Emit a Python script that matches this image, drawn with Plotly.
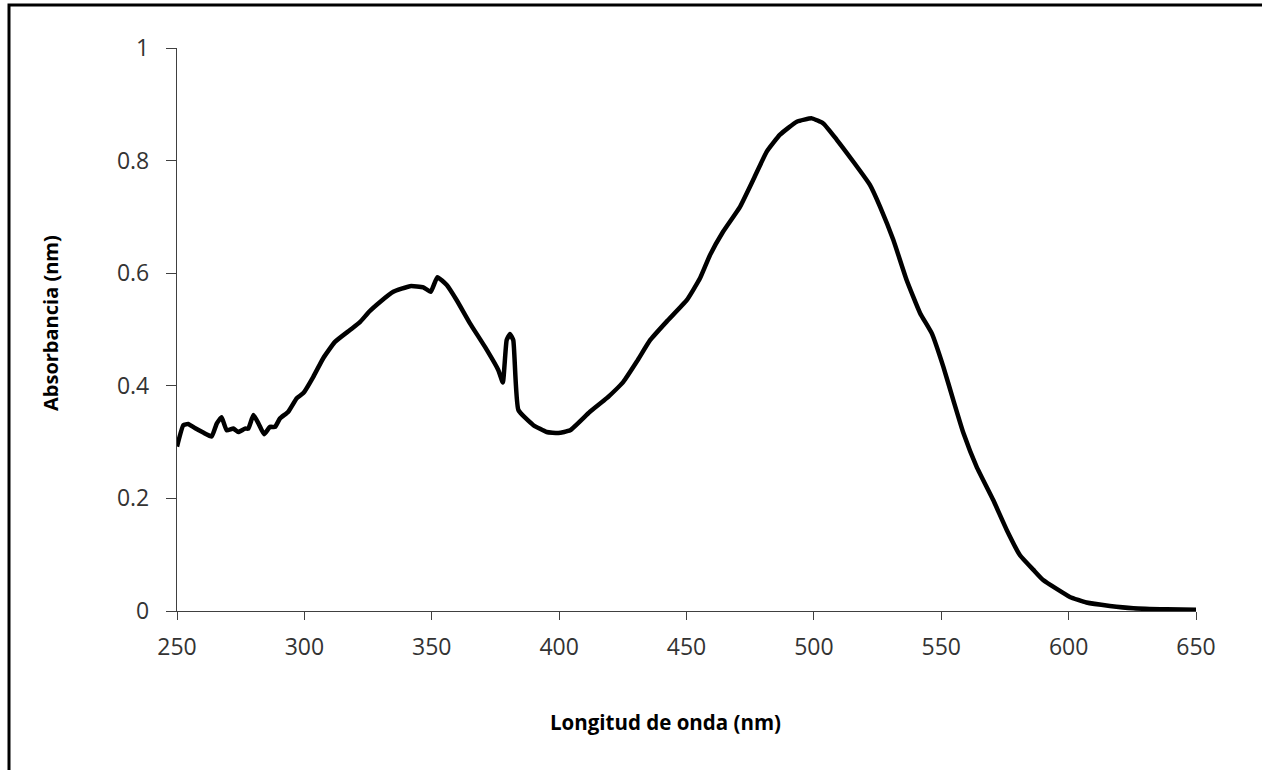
import plotly.graph_objects as go

wavelength = [250, 252.5, 254.4, 257, 260.3, 263.6, 265.6, 267.5, 269.5, 272.1, 274.1, 276.7, 278,
              280, 282, 284.2, 286.5, 288.5, 290.4, 293.7, 297, 299.6, 303.5, 307.4, 312, 317.9,
              321.8, 325.5, 329.7, 334.9, 341.5, 346.7, 349.6, 352.2, 355.9, 359.8, 365, 370.9,
              376.1, 377.9, 379.4, 380.7, 382, 384, 389.9, 395.1, 399.7, 404.3, 412.1, 418.7,
              425.2, 430.5, 435.7, 442.2, 450.1, 455.3, 459.2, 464.4, 471, 476.2, 481.5, 486.7,
              493.3, 499.2, 503.7, 509, 515.5, 522, 526, 531.2, 536.4, 541.7, 546.3, 550.8,
              554.7, 558.7, 563.9, 570.4, 575.7, 580.9, 586.2, 590, 600.5, 607, 616.2, 625.4,
              638.5, 650]
absorbance = [0.292, 0.330, 0.332, 0.325, 0.317, 0.310, 0.333, 0.344, 0.321, 0.324, 0.318, 0.324, 0.324,
              0.348, 0.333, 0.314, 0.327, 0.327, 0.342, 0.354, 0.378, 0.387, 0.416, 0.449, 0.478, 0.499,
              0.513, 0.532, 0.549, 0.567, 0.577, 0.575, 0.567, 0.593, 0.579, 0.552, 0.511, 0.469,
              0.428, 0.406, 0.481, 0.492, 0.481, 0.357, 0.330, 0.318, 0.316, 0.321, 0.354, 0.378,
              0.407, 0.443, 0.481, 0.514, 0.552, 0.591, 0.632, 0.674, 0.718, 0.766, 0.816, 0.846,
              0.869, 0.875, 0.866, 0.837, 0.798, 0.757, 0.718, 0.659, 0.588, 0.529, 0.493, 0.434,
              0.375, 0.316, 0.256, 0.197, 0.144, 0.099, 0.073, 0.055, 0.025, 0.015, 0.009, 0.005,
              0.003, 0.002]

x_ticks = [250, 300, 350, 400, 450, 500, 550, 600, 650]
y_ticks = [0, 0.2, 0.4, 0.6, 0.8, 1]
y_tick_labels = ["0", "0.2", "0.4", "0.6", "0.8", "1"]

FONT = "Open Sans, Liberation Sans, sans-serif"
TICK_FONT = dict(family=FONT, size=23, color="#333333")

fig = go.Figure()
fig.add_trace(go.Scatter(x=wavelength, y=absorbance, mode="lines",
                         line=dict(color="black", width=4.5, shape="spline", smoothing=0.4),
                         showlegend=False, hoverinfo="skip"))

fig.update_layout(
    width=1262, height=770,
    margin=dict(l=177, r=66, t=48, b=159),
    paper_bgcolor="white", plot_bgcolor="white",
    font=dict(family=FONT, size=23, color="#333333"),
    xaxis=dict(range=[250, 650], tickvals=x_ticks, showgrid=False, zeroline=False,
               showline=True, linecolor="#404040", linewidth=1.3,
               ticks="outside", ticklen=8, tickcolor="#404040", tickwidth=1.3,
               ticklabelstandoff=7, tickfont=TICK_FONT),
    yaxis=dict(range=[0, 1], tickvals=y_ticks, ticktext=y_tick_labels, showgrid=False,
               zeroline=False, showline=True, linecolor="#404040", linewidth=1.3,
               ticks="outside", ticklen=10, tickcolor="#404040", tickwidth=1.3,
               ticklabelstandoff=12, tickfont=TICK_FONT),
    annotations=[
        dict(text="<b>Longitud de onda (nm)</b>", xref="paper", yref="paper",
             x=(665 - 177) / 1019, y=(611 - 722) / 563, showarrow=False,
             xanchor="center", yanchor="middle",
             font=dict(family=FONT, size=20.5, color="#000000")),
        dict(text="<b>Absorbancia (nm)</b>", xref="paper", yref="paper",
             x=(50 - 177) / 1019, y=(611 - 323) / 563, showarrow=False, textangle=-90,
             xanchor="center", yanchor="middle",
             font=dict(family=FONT, size=20, color="#000000")),
    ],
    shapes=[dict(type="rect", xref="paper", yref="paper",
                 x0=(9 - 177) / 1019, x1=1.2, y0=-0.5, y1=(611 - 5) / 563,
                 line=dict(color="black", width=3), layer="below")],
)

fig.write_html("out.html")
